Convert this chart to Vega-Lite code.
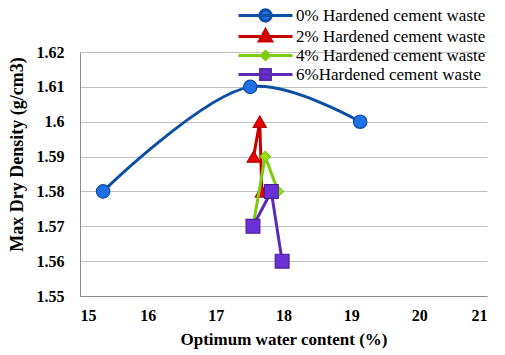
{
  "$schema": "https://vega.github.io/schema/vega-lite/v6.json",
  "width": 407,
  "height": 244,
  "autosize": {"type": "none"},
  "padding": {"left": 80, "top": 52, "right": 18, "bottom": 59},
  "background": "white",
  "config": {
    "view": {"stroke": null},
    "font": "Liberation Serif",
    "legend": {"labelFont": "Liberation Serif", "labelFontSize": 17, "labelColor": "#000000"}
  },
  "data": {
    "values": [
      {"series": "0% Hardened cement waste", "water": 15.34, "density": 1.58},
      {"series": "0% Hardened cement waste", "water": 17.51, "density": 1.61},
      {"series": "0% Hardened cement waste", "water": 19.13, "density": 1.60},
      {"series": "2% Hardened cement waste", "water": 17.56, "density": 1.59},
      {"series": "2% Hardened cement waste", "water": 17.65, "density": 1.60},
      {"series": "2% Hardened cement waste", "water": 17.68, "density": 1.58},
      {"series": "4% Hardened cement waste", "water": 17.55, "density": 1.57},
      {"series": "4% Hardened cement waste", "water": 17.73, "density": 1.59},
      {"series": "4% Hardened cement waste", "water": 17.92, "density": 1.58},
      {"series": "6%Hardened cement waste", "water": 17.55, "density": 1.57},
      {"series": "6%Hardened cement waste", "water": 17.82, "density": 1.58},
      {"series": "6%Hardened cement waste", "water": 17.98, "density": 1.56}
    ]
  },
  "encoding": {
    "x": {
      "field": "water",
      "type": "quantitative",
      "title": "Optimum water content (%)",
      "scale": {"domain": [15, 21], "nice": false, "zero": false},
      "axis": {
        "values": [15, 16, 17, 18, 19, 20, 21],
        "grid": false,
        "ticks": false,
        "domainColor": "#8c8c8c",
        "domainWidth": 1,
        "labelFont": "Liberation Serif",
        "labelFontSize": 16,
        "labelFontWeight": "bold",
        "labelColor": "#000000",
        "labelPadding": 11,
        "titleFont": "Liberation Serif",
        "titleFontSize": 17,
        "titleFontWeight": "bold",
        "titleColor": "#000000",
        "titlePadding": 8
      }
    },
    "y": {
      "field": "density",
      "type": "quantitative",
      "title": "Max Dry Density (g/cm3)",
      "scale": {"domain": [1.55, 1.62], "nice": false, "zero": false},
      "axis": {
        "values": [1.55, 1.56, 1.57, 1.58, 1.59, 1.6, 1.61, 1.62],
        "format": ".2~f",
        "grid": true,
        "gridColor": "#c0c0c0",
        "gridWidth": 1,
        "ticks": false,
        "domainColor": "#8c8c8c",
        "domainWidth": 1,
        "labelFont": "Liberation Serif",
        "labelFontSize": 16,
        "labelFontWeight": "bold",
        "labelColor": "#000000",
        "labelPadding": 16,
        "titleFont": "Liberation Serif",
        "titleFontSize": 18,
        "titleFontWeight": "bold",
        "titleColor": "#000000",
        "titleX": -54,
        "titleY": 102,
        "titleBaseline": "bottom"
      }
    }
  },
  "layer": [
    {
      "transform": [{"filter": "datum.series == '0% Hardened cement waste'"}],
      "mark": {"type": "line", "interpolate": "catmull-rom", "strokeWidth": 3, "color": "#0b4ea2"}
    },
    {
      "transform": [{"filter": "datum.series == '0% Hardened cement waste'"}],
      "mark": {"type": "point", "shape": "circle", "filled": true, "fill": "#1f6fe6", "stroke": "#0b4ea2", "strokeWidth": 1.2, "size": 180, "opacity": 1}
    },
    {
      "transform": [{"filter": "datum.series == '2% Hardened cement waste'"}],
      "mark": {"type": "line", "strokeWidth": 3, "color": "#c80000"}
    },
    {
      "transform": [{"filter": "datum.series == '2% Hardened cement waste'"}],
      "mark": {"type": "point", "shape": "triangle-up", "filled": true, "fill": "#ee0000", "stroke": "#b00000", "strokeWidth": 1.2, "size": 170, "opacity": 1}
    },
    {
      "transform": [{"filter": "datum.series == '4% Hardened cement waste'"}],
      "mark": {"type": "line", "strokeWidth": 3, "color": "#7ccc0a"}
    },
    {
      "transform": [{"filter": "datum.series == '4% Hardened cement waste'"}],
      "mark": {"type": "point", "shape": "diamond", "filled": true, "fill": "#99e01a", "stroke": "#7ccc0a", "strokeWidth": 1.2, "size": 110, "opacity": 1}
    },
    {
      "transform": [{"filter": "datum.series == '6%Hardened cement waste'"}],
      "mark": {"type": "line", "strokeWidth": 3, "color": "#5b2bb5"}
    },
    {
      "transform": [{"filter": "datum.series == '6%Hardened cement waste'"}],
      "mark": {"type": "point", "shape": "square", "filled": true, "fill": "#6a32d6", "stroke": "#4a2095", "strokeWidth": 1.2, "size": 190, "opacity": 1}
    },
    {
      "mark": {"type": "point", "filled": true, "opacity": 0, "size": 100},
      "encoding": {
        "shape": {
          "field": "series",
          "type": "nominal",
          "scale": {
            "domain": ["0% Hardened cement waste", "2% Hardened cement waste", "4% Hardened cement waste", "6%Hardened cement waste"],
            "range": [
              "M-5.4,0H5.4M-1.14,0A1.14,1.14,0,1,0,1.14,0A1.14,1.14,0,1,0,-1.14,0Z",
              "M-5.4,0H5.4M0,-1.3L1.2,0.9L-1.2,0.9Z",
              "M-5.4,0H5.4M0,-0.8L0.8,0L0,0.8L-0.8,0Z",
              "M-5.4,0H5.4M-1,-1H1V1H-1Z"
            ]
          },
          "legend": {
            "title": null, "orient": "none", "legendX": 177, "legendY": -45, "padding": 0, "offset": 0,
            "rowPadding": -4, "symbolSize": 100, "symbolStrokeWidth": 3, "symbolOffset": 0, "symbolOpacity": 1,
            "labelOffset": 22, "labelFont": "Liberation Serif", "labelFontSize": 17, "labelColor": "#000000", "labelLimit": 300,
            "encode": {"labels": {"font": {"value": "Liberation Serif"}, "fontSize": {"value": 17}}}
          }
        },
        "fill": {
          "field": "series",
          "type": "nominal",
          "scale": {
            "domain": ["0% Hardened cement waste", "2% Hardened cement waste", "4% Hardened cement waste", "6%Hardened cement waste"],
            "range": ["#1f6fe6", "#ee0000", "#99e01a", "#6a32d6"]
          },
          "legend": {
            "title": null, "orient": "none", "legendX": 177, "legendY": -45, "padding": 0, "offset": 0,
            "rowPadding": -4, "symbolSize": 100, "symbolStrokeWidth": 3, "symbolOffset": 0, "symbolOpacity": 1,
            "labelOffset": 22, "labelFont": "Liberation Serif", "labelFontSize": 17, "labelColor": "#000000", "labelLimit": 300,
            "encode": {"labels": {"font": {"value": "Liberation Serif"}, "fontSize": {"value": 17}}}
          }
        },
        "stroke": {
          "field": "series",
          "type": "nominal",
          "scale": {
            "domain": ["0% Hardened cement waste", "2% Hardened cement waste", "4% Hardened cement waste", "6%Hardened cement waste"],
            "range": ["#0b4ea2", "#c80000", "#7ccc0a", "#5b2bb5"]
          },
          "legend": {
            "title": null, "orient": "none", "legendX": 177, "legendY": -45, "padding": 0, "offset": 0,
            "rowPadding": -4, "symbolSize": 100, "symbolStrokeWidth": 3, "symbolOffset": 0, "symbolOpacity": 1,
            "labelOffset": 22, "labelFont": "Liberation Serif", "labelFontSize": 17, "labelColor": "#000000", "labelLimit": 300,
            "encode": {"labels": {"font": {"value": "Liberation Serif"}, "fontSize": {"value": 17}}}
          }
        }
      }
    }
  ]
}
